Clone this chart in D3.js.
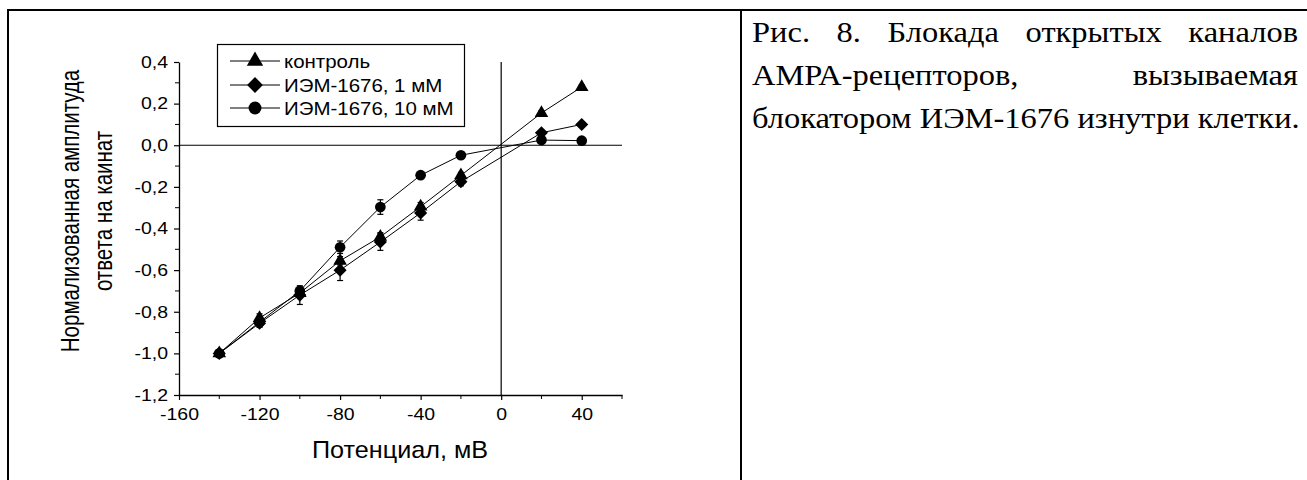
<!DOCTYPE html>
<html>
<head>
<meta charset="utf-8">
<script src="https://cdn.jsdelivr.net/npm/d3@7"></script>
<style>
  body { margin: 0; background: #fff; }
  svg { display: block; }
</style>
</head>
<body>
<svg id="fig" width="1307" height="480"></svg>
<script>
// data
const potentials = [-140, -120, -100, -80, -60, -40, -20, 20, 40];
const control    = [-1.0, -0.83, -0.71, -0.555, -0.44, -0.295, -0.145, 0.155, 0.28];
const controlErr = [0.01, 0.02, 0.02, 0.02, 0.02, 0.02, 0.015, 0.01, 0.01];
const iem1       = [-1.0, -0.855, -0.72, -0.60, -0.465, -0.325, -0.175, 0.06, 0.10];
const iem1Err    = [0.015, 0.02, 0.045, 0.05, 0.04, 0.035, 0.02, 0.01, 0.01];
const iem10      = [-1.0, -0.85, -0.70, -0.49, -0.297, -0.144, -0.048, 0.025, 0.022];
const iem10Err   = [0.01, 0.015, 0.02, 0.03, 0.035, 0.015, 0.01, 0.01, 0.01];
const seriesNames = ["контроль", "ИЭМ-1676, 1 мМ", "ИЭМ-1676, 10 мМ"];
const xMajor = [-160, -120, -80, -40, 0, 40];
const xMinor = [-140, -100, -60, -20, 20, 60];
const yMajor = [-1.2, -1.0, -0.8, -0.6, -0.4, -0.2, 0.0, 0.2, 0.4];
const yMinor = [-1.1, -0.9, -0.7, -0.5, -0.3, -0.1, 0.1, 0.3];
const yTitle = ["Нормализованная амплитуда", "ответа на каинат"];
const xTitle = "Потенциал, мВ";
const caption = [
  "Рис. 8. Блокада открытых каналов",
  "АМРА-рецепторов, вызываемая",
  "блокатором ИЭМ-1676 изнутри клетки."
];

const svg = d3.select("#fig");
const sans = "'Liberation Sans', Arial, sans-serif";
const serif = "'Liberation Serif', 'Times New Roman', serif";
// the scanned figure is a bit wider than it is tall, so text gets a horizontal stretch
const tickSX = 1.18;

const ru = d3.formatLocale({decimal: ",", thousands: " ", grouping: [3], currency: ["", ""], minus: "-"});
const fmtY = ru.format(".1f");
const fmtX = ru.format("d");

// page frame (table cells)
svg.append("line").attr("x1", 7).attr("x2", 1307).attr("y1", 10).attr("y2", 10)
  .attr("stroke", "#000").attr("stroke-width", 2);
svg.append("line").attr("x1", 8).attr("x2", 8).attr("y1", 9).attr("y2", 480)
  .attr("stroke", "#000").attr("stroke-width", 2);
svg.append("line").attr("x1", 741).attr("x2", 741).attr("y1", 9).attr("y2", 480)
  .attr("stroke", "#000").attr("stroke-width", 2);

const x = d3.scaleLinear().domain([-160, 60]).range([179, 622]);
const y = d3.scaleLinear().domain([-1.2, 0.4]).range([395, 62]);

const g = svg.append("g");

// axes
const xAxis = g.append("g").attr("transform", `translate(0,${y(-1.2)})`)
  .call(d3.axisBottom(x).tickValues(xMajor).tickSize(5).tickSizeOuter(0).tickFormat(fmtX));
xAxis.append("g").selectAll("line").data(xMinor).join("line")
  .attr("x1", d => x(d)).attr("x2", d => x(d)).attr("y1", 0).attr("y2", 4)
  .attr("stroke", "#000");
const yAxis = g.append("g").attr("transform", `translate(${x(-160)},0)`)
  .call(d3.axisLeft(y).tickValues(yMajor).tickSize(5).tickSizeOuter(0).tickFormat(fmtY));
yAxis.append("g").selectAll("line").data(yMinor).join("line")
  .attr("y1", d => y(d)).attr("y2", d => y(d)).attr("x1", 0).attr("x2", -4)
  .attr("stroke", "#000");
[xAxis, yAxis].forEach(a => {
  a.select(".domain").attr("stroke-width", 1.3);
  a.selectAll(".tick line").attr("stroke-width", 1.2);
  a.selectAll(".tick text").attr("font-family", sans).attr("font-size", 16.5).attr("fill", "#000")
    .attr("transform", `scale(${tickSX},1)`);
});
xAxis.selectAll(".tick text").attr("dy", "1.03em");
yAxis.selectAll(".tick text").attr("x", -11 / tickSX);

// zero lines
g.append("line").attr("x1", x(-160)).attr("x2", x(60)).attr("y1", y(0)).attr("y2", y(0))
  .attr("stroke", "#000").attr("stroke-width", 1.2);
g.append("line").attr("x1", x(0)).attr("x2", x(0)).attr("y1", y(0.4)).attr("y2", y(-1.2))
  .attr("stroke", "#000").attr("stroke-width", 1.2);

// axis titles
const ysx = 1.25;
const yt = g.append("text").attr("transform", `translate(0,211) scale(${ysx},1) rotate(-90)`)
  .attr("font-family", sans).attr("font-size", 20.5).attr("text-anchor", "middle");
yt.selectAll("tspan").data(yTitle).join("tspan")
  .attr("x", 0).attr("y", (d, i) => [79, 112][i] / ysx).text(d => d);
g.append("text").attr("transform", "translate(400,458) scale(1.05,1)").attr("text-anchor", "middle")
  .attr("font-family", sans).attr("font-size", 24).text(xTitle);

// series
const series = [
  {name: seriesNames[0], vals: control, err: controlErr, sym: d3.symbolTriangle, size: 80, rot: 0},
  {name: seriesNames[1], vals: iem1, err: iem1Err, sym: d3.symbolSquare, size: 86, rot: 45},
  {name: seriesNames[2], vals: iem10, err: iem10Err, sym: d3.symbolCircle, size: 90, rot: 0}
];
const line = d3.line().x(d => x(d[0])).y(d => y(d[1]));

series.forEach(s => {
  const pts = potentials.map((p, i) => [p, s.vals[i], s.err[i]]);
  g.append("path").attr("d", line(pts)).attr("fill", "none").attr("stroke", "#000").attr("stroke-width", 1);
  const eb = g.append("g").attr("stroke", "#000").attr("stroke-width", 1.2);
  pts.forEach(d => {
    const y0 = y(d[1] - d[2]), y1 = y(d[1] + d[2]), cx = x(d[0]);
    eb.append("line").attr("x1", cx).attr("x2", cx).attr("y1", y0).attr("y2", y1);
    eb.append("line").attr("x1", cx - 3).attr("x2", cx + 3).attr("y1", y0).attr("y2", y0);
    eb.append("line").attr("x1", cx - 3).attr("x2", cx + 3).attr("y1", y1).attr("y2", y1);
  });
});
series.forEach(s => {
  g.append("g").selectAll("path").data(potentials.map((p, i) => [p, s.vals[i]])).join("path")
    .attr("d", d3.symbol(s.sym, s.size))
    .attr("transform", d => `translate(${x(d[0])},${y(d[1])}) rotate(${s.rot})`)
    .attr("fill", "#000");
});

// legend
const lg = g.append("g");
lg.append("rect").attr("x", 217.5).attr("y", 44.5).attr("width", 247).attr("height", 82)
  .attr("fill", "#fff").attr("stroke", "#000").attr("stroke-width", 1.2);
series.forEach((s, i) => {
  const ly = [61, 85, 108][i];
  lg.append("line").attr("x1", 230).attr("x2", 280).attr("y1", ly).attr("y2", ly)
    .attr("stroke", "#000").attr("stroke-width", 1);
  lg.append("path").attr("d", d3.symbol(s.sym, s.size * 1.45))
    .attr("transform", `translate(255,${ly}) rotate(${s.rot})`).attr("fill", "#000");
  lg.append("text").attr("transform", `translate(284,${ly}) scale(1.1,1)`).attr("dy", "0.36em")
    .attr("font-family", sans).attr("font-size", 18.6).text(s.name);
});

// caption, justified like the document text
const capLeft = 752, capRight = 1298, capSX = 1.084;
const capY = [42, 85, 128];
const cg = svg.append("g").attr("transform", `translate(${capLeft},0) scale(${capSX},1)`);
caption.forEach((txt, i) => {
  const words = txt.split(" ");
  const t = cg.append("text").attr("font-family", serif).attr("font-size", 30).attr("y", capY[i]);
  const spans = words.map(w => t.append("tspan").text(w));
  const widths = spans.map(sp => sp.node().getComputedTextLength());
  const total = d3.sum(widths);
  const last = i === caption.length - 1;
  const gap = last ? 7.5 : ((capRight - capLeft) / capSX - total) / (words.length - 1);
  let cx = 0;
  spans.forEach((sp, k) => { sp.attr("x", cx); cx += widths[k] + gap; });
});
</script>
</body>
</html>
